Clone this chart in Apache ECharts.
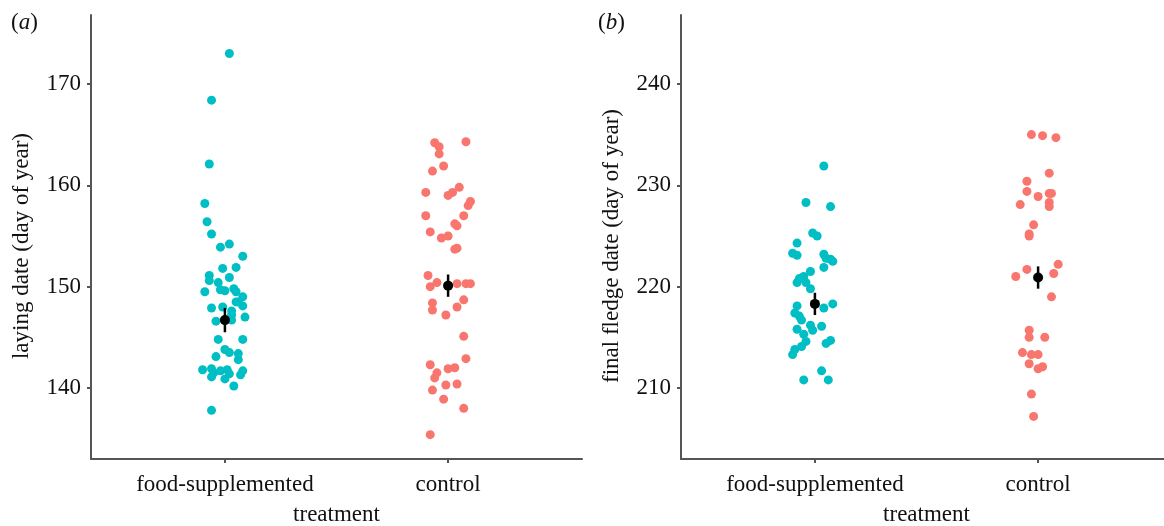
<!DOCTYPE html>
<html>
<head>
<meta charset="utf-8">
<script src="https://cdn.jsdelivr.net/npm/echarts@6/dist/echarts.min.js"></script>
<style>
html,body{margin:0;padding:0;background:#fff;}
#chart{width:1164px;height:526px;}
</style>
</head>
<body>
<div id="chart"></div>
<script>
// ---------- data ----------
const categories = ['food-supplemented', 'control'];
const yTicksA = [140, 150, 160, 170];
const yTicksB = [210, 220, 230, 240];

// panel (a): laying date
const aFoodY = [173.0,168.4,162.1,158.2,156.4,155.2,153.9,154.2,153.0,151.8,151.9,151.1,150.6,150.4,150.9,149.5,149.7,149.6,149.8,149.5,149.0,148.5,148.1,148.5,147.9,148.0,147.6,147.2,147.0,146.6,146.7,144.8,144.8,143.8,143.5,143.4,143.1,142.8,141.8,141.9,141.7,141.8,141.5,141.4,141.7,141.3,141.1,140.9,140.2,137.8];
const aFoodJit = [0.02,-0.06,-0.07,-0.09,-0.08,-0.06,-0.02,0.02,0.08,-0.01,0.05,-0.07,-0.07,-0.03,0.02,-0.09,-0.02,0.00,0.04,0.05,0.08,0.06,0.08,0.05,-0.06,-0.01,0.03,0.03,0.09,-0.04,0.03,-0.03,0.08,0.00,0.02,0.06,-0.04,0.06,-0.10,-0.06,-0.02,0.01,-0.05,0.02,0.08,0.07,-0.06,0.00,0.04,-0.06];
const aCtrlY = [164.2,163.8,164.3,163.1,161.9,161.4,159.3,159.0,159.3,159.8,158.4,158.0,157.0,157.0,156.2,156.0,155.4,154.8,155.0,153.8,153.7,151.1,150.0,150.4,150.3,150.3,150.3,148.4,147.7,147.2,148.0,148.7,145.1,142.9,142.3,141.5,141.0,141.9,142.0,139.8,140.3,140.4,138.9,138.0,135.4];
const aCtrlJit = [-0.06,-0.04,0.08,-0.04,-0.02,-0.07,-0.10,0.00,0.02,0.05,0.10,0.09,-0.10,0.07,0.03,0.04,-0.08,-0.03,0.00,0.04,0.03,-0.09,-0.08,-0.05,0.04,0.08,0.10,-0.07,-0.07,-0.01,0.04,0.07,0.07,0.08,-0.08,-0.05,-0.06,0.00,0.03,-0.07,-0.01,0.04,-0.02,0.07,-0.08];
const aMeans = [146.7, 150.1];
const aErr = [1.2, 1.1];

// panel (b): final fledge date
const bFoodY = [231.9,228.3,227.9,225.3,225.0,224.3,223.3,223.1,223.2,222.8,222.5,222.7,221.9,221.5,221.0,220.8,220.4,220.4,219.8,218.3,217.9,218.1,217.4,217.1,216.7,216.2,216.1,215.8,215.7,215.3,214.7,214.4,214.6,214.1,213.8,213.3,211.7,210.8,210.8];
const bFoodJit = [0.04,-0.04,0.07,-0.01,0.01,-0.08,-0.10,-0.08,0.04,0.05,0.08,0.07,0.04,-0.02,-0.05,-0.07,-0.08,-0.04,-0.02,0.08,0.04,-0.08,-0.09,-0.07,-0.06,-0.02,0.03,-0.08,-0.01,-0.05,0.07,0.05,-0.04,-0.06,-0.09,-0.10,0.03,-0.05,0.06];
const bCtrlY = [235.0,234.9,234.7,231.2,230.4,229.4,229.2,229.2,228.9,228.1,228.3,227.9,226.1,225.2,225.0,222.2,221.7,221.3,221.0,219.0,215.7,215.0,215.0,213.5,213.3,213.3,212.4,212.1,211.9,209.4,207.2];
const bCtrlJit = [-0.03,0.02,0.08,0.05,-0.05,-0.05,0.05,0.06,0.00,-0.08,0.05,0.05,-0.02,-0.04,-0.04,0.09,-0.05,0.07,-0.10,0.06,-0.04,-0.04,0.03,-0.07,-0.03,0.00,-0.04,0.02,0.00,-0.03,-0.02];
const bMeans = [218.3, 220.9];
const bErr = [1.1, 1.1];

// ---------- chart ----------
const FOOD_COLOR = '#00BFC4';
const CTRL_COLOR = '#F8766D';
const FONT = 'Liberation Serif';
const AXIS_COLOR = '#555';
const TEXT_COLOR = '#111';

const pts = (jit, ys, pos) => ys.map((y, i) => [pos + jit[i], y]);
const meanData = (means, err) => means.map((m, i) => [i + 1, m, m - err[i], m + err[i]]);

function xAxis(gi) {
  return {
    type: 'value', gridIndex: gi, min: 0.4, max: 2.6,
    name: 'treatment', nameLocation: 'middle', nameGap: 44,
    nameTextStyle: {fontFamily: FONT, fontSize: 23, color: TEXT_COLOR},
    axisLine: {show: true, lineStyle: {color: AXIS_COLOR, width: 2}},
    axisTick: {show: true, length: 4, customValues: [1, 2], lineStyle: {color: AXIS_COLOR, width: 2}},
    axisLabel: {customValues: [1, 2], margin: 14, fontFamily: FONT, fontSize: 23, color: TEXT_COLOR,
      formatter: v => categories[Math.round(v) - 1]},
    splitLine: {show: false}
  };
}
function yAxis(gi, min, max, ticks, name) {
  return {
    type: 'value', gridIndex: gi, min: min, max: max,
    name: name, nameLocation: 'middle', nameGap: 58, nameRotate: 90,
    nameTextStyle: {fontFamily: FONT, fontSize: 23, color: TEXT_COLOR, padding: [0, 18, 0, 0]},
    axisLine: {show: true, lineStyle: {color: AXIS_COLOR, width: 2}},
    axisTick: {show: true, length: 4, customValues: ticks, lineStyle: {color: AXIS_COLOR, width: 2}},
    axisLabel: {customValues: ticks, margin: 10, fontFamily: FONT, fontSize: 23, color: TEXT_COLOR},
    splitLine: {show: false}
  };
}
function errSeries(xi, data) {
  return {
    type: 'custom', xAxisIndex: xi, yAxisIndex: xi, z: 5, data: data,
    renderItem: (params, api) => {
      const p1 = api.coord([api.value(0), api.value(2)]);
      const p2 = api.coord([api.value(0), api.value(3)]);
      return {type: 'line', shape: {x1: p1[0], y1: p1[1], x2: p2[0], y2: p2[1]},
        style: {stroke: '#000', lineWidth: 2.5}};
    }
  };
}
function meanSeries(xi, data) {
  return {type: 'scatter', xAxisIndex: xi, yAxisIndex: xi, z: 6, symbolSize: 10,
    itemStyle: {color: '#000', opacity: 1}, data: data.map(d => [d[0], d[1]])};
}
function ptSeries(xi, data, color) {
  return {type: 'scatter', xAxisIndex: xi, yAxisIndex: xi, symbolSize: 9,
    itemStyle: {color: color, opacity: 1}, data: data};
}
const panelLabel = (letter, left) => ({
  text: '{p|(}{i|' + letter + '}{p|)}', left: left, top: 6,
  textStyle: {fontWeight: 'normal', rich: {
    p: {fontFamily: FONT, fontSize: 23, fontWeight: 'normal', color: TEXT_COLOR},
    i: {fontFamily: FONT, fontSize: 23, fontWeight: 'normal', fontStyle: 'italic', color: TEXT_COLOR}}}
});

const chart = echarts.init(document.getElementById('chart'), null, {renderer: 'canvas'});
chart.setOption({
  animation: false,
  backgroundColor: '#fff',
  title: [panelLabel('a', 6), panelLabel('b', 593)],
  grid: [
    {left: 91, width: 491, top: 15, height: 444, outerBoundsMode: 'none', containLabel: false},
    {left: 681, width: 491, top: 15, height: 444, outerBoundsMode: 'none', containLabel: false}
  ],
  xAxis: [xAxis(0), xAxis(1)],
  yAxis: [
    yAxis(0, 133.0, 176.8, yTicksA, 'laying date (day of year)'),
    yAxis(1, 203.0, 246.8, yTicksB, 'final fledge date (day of year)')
  ],
  series: [
    ptSeries(0, pts(aFoodJit, aFoodY, 1), FOOD_COLOR),
    ptSeries(0, pts(aCtrlJit, aCtrlY, 2), CTRL_COLOR),
    errSeries(0, meanData(aMeans, aErr)),
    meanSeries(0, meanData(aMeans, aErr)),
    ptSeries(1, pts(bFoodJit, bFoodY, 1), FOOD_COLOR),
    ptSeries(1, pts(bCtrlJit, bCtrlY, 2), CTRL_COLOR),
    errSeries(1, meanData(bMeans, bErr)),
    meanSeries(1, meanData(bMeans, bErr))
  ]
});
</script>
</body>
</html>
